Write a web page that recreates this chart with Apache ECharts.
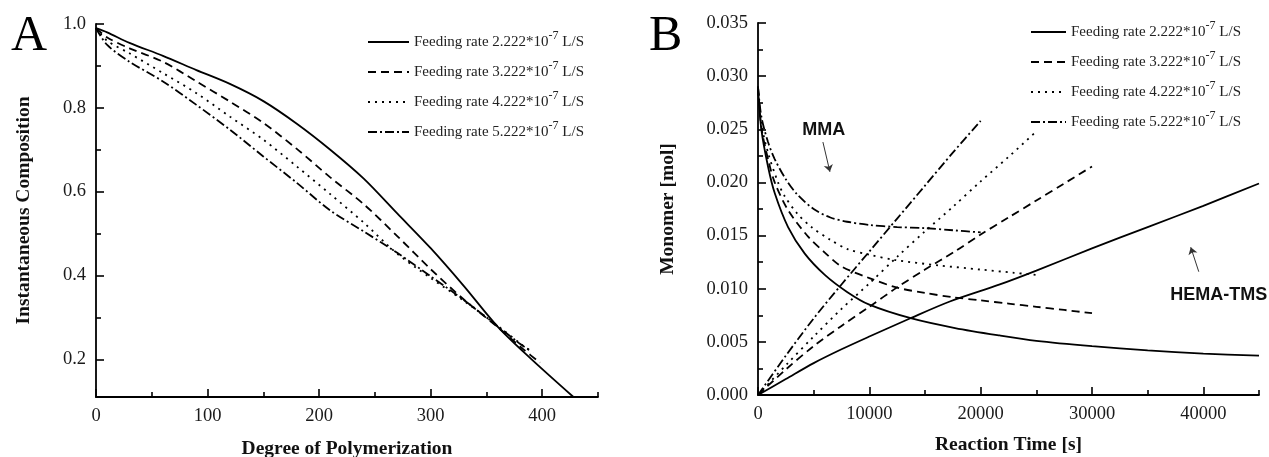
<!DOCTYPE html>
<html>
<head>
<meta charset="utf-8">
<script src="https://cdn.jsdelivr.net/npm/echarts@6/dist/echarts.min.js"></script>
<style>
html,body{margin:0;padding:0;background:#fff;}
#chart{width:1269px;height:457px;}
</style>
</head>
<body>
<div id="chart"></div>
<script>
// ---------- Data ----------
const seriesNames = ['rate2', 'rate3', 'rate4', 'rate5'];
const legendLabels = ['2.222', '3.222', '4.222', '5.222'];
const lineTypes = ['solid', [8, 5], [2, 5], [9, 3, 2, 3]];

// Panel A: Instantaneous Composition vs Degree of Polymerization
const aX1 = [0, 10, 30, 60, 90, 120, 150, 180, 210, 240, 270, 300, 330, 360, 390, 428];
const aY1 = [0.99, 0.98, 0.955, 0.924, 0.89, 0.857, 0.816, 0.762, 0.70, 0.631, 0.548, 0.465, 0.374, 0.278, 0.201, 0.11];
const aX2 = [0, 10, 30, 60, 90, 120, 150, 180, 210, 240, 270, 300, 330, 360, 383, 398];
const aY2 = [0.99, 0.968, 0.942, 0.91, 0.863, 0.815, 0.764, 0.702, 0.634, 0.57, 0.494, 0.415, 0.342, 0.277, 0.224, 0.192];
const aX3 = [0, 10, 30, 60, 90, 120, 150, 180, 210, 240, 270, 300, 330, 360, 383, 392];
const aY3 = [0.99, 0.96, 0.93, 0.883, 0.835, 0.779, 0.724, 0.66, 0.594, 0.526, 0.452, 0.394, 0.339, 0.28, 0.232, 0.215];
const aX4 = [0, 10, 30, 60, 90, 120, 150, 180, 210, 240, 270, 300, 330, 360, 380, 390];
const aY4 = [0.99, 0.95, 0.91, 0.863, 0.807, 0.748, 0.684, 0.621, 0.555, 0.505, 0.454, 0.398, 0.341, 0.279, 0.237, 0.22];

// Panel B: Monomer [mol] vs Reaction Time [s]
// MMA (decreasing) curves
const bMmaX1 = [0, 300, 900, 1500, 2700, 4200, 6000, 8000, 10000, 13800, 17700, 21700, 25000, 30000, 35000, 40000, 45000];
const bMmaY1 = [0.029, 0.025, 0.0215, 0.019, 0.0158, 0.0133, 0.0113, 0.0097, 0.0085, 0.0072, 0.0063, 0.0056, 0.0051, 0.0046, 0.0042, 0.0039, 0.0037];
const bMmaX2 = [0, 300, 900, 1500, 2700, 4500, 6000, 7500, 10000, 12500, 15000, 17500, 20000, 22500, 25000, 27500, 30000];
const bMmaY2 = [0.029, 0.0252, 0.0222, 0.020, 0.0174, 0.0149, 0.0134, 0.0121, 0.0110, 0.0101, 0.0096, 0.0092, 0.0089, 0.0086, 0.0083, 0.0080, 0.0077];
const bMmaX3 = [0, 300, 900, 1800, 2400, 3500, 4800, 6500, 8100, 10000, 12300, 16200, 20000, 23000, 25000];
const bMmaY3 = [0.029, 0.0255, 0.0228, 0.020, 0.0187, 0.0171, 0.0158, 0.0146, 0.0137, 0.0132, 0.0127, 0.0122, 0.0118, 0.0115, 0.0113];
const bMmaX4 = [0, 300, 900, 1500, 2500, 3500, 5000, 6500, 8000, 10000, 12500, 15000, 17500, 20000];
const bMmaY4 = [0.029, 0.0262, 0.0238, 0.0222, 0.0203, 0.0189, 0.0175, 0.0167, 0.0163, 0.0160, 0.0158, 0.0157, 0.0155, 0.0153];
// HEMA-TMS (increasing) curves
const bHemaX1 = [0, 2500, 5000, 7500, 10000, 13640, 17230, 21720, 25000, 30000, 35000, 40000, 45000];
const bHemaY1 = [0, 0.0015, 0.0030, 0.0043, 0.0055, 0.0072, 0.0088, 0.0104, 0.0117, 0.0138, 0.0158, 0.0178, 0.0199];
const bHemaX2 = [0, 2500, 5000, 7500, 10000, 12600, 15000, 17680, 20000, 22500, 25000, 27500, 30000];
const bHemaY2 = [0, 0.0024, 0.0046, 0.0065, 0.0083, 0.0102, 0.0118, 0.0135, 0.0151, 0.0167, 0.0183, 0.0199, 0.0215];
const bHemaX3 = [0, 2500, 5000, 7500, 10000, 12500, 15000, 17500, 20000, 22500, 25000];
const bHemaY3 = [0, 0.0028, 0.0055, 0.0081, 0.0105, 0.0130, 0.0154, 0.0177, 0.0201, 0.0224, 0.0248];
const bHemaX4 = [0, 2500, 5000, 7500, 10000, 12500, 15000, 17500, 20000];
const bHemaY4 = [0, 0.0037, 0.0072, 0.0104, 0.0135, 0.0166, 0.0197, 0.0228, 0.0258];

// Tick values
const aXMajor = [0, 100, 200, 300, 400];
const aXMinor = [50, 150, 250, 350, 450];
const aYMajor = [0.2, 0.4, 0.6, 0.8, 1.0];
const aYMinor = [0.3, 0.5, 0.7, 0.9];
const bXMajor = [0, 10000, 20000, 30000, 40000];
const bXMinor = [5000, 15000, 25000, 35000, 45000];
const bYMajor = [0, 0.005, 0.01, 0.015, 0.02, 0.025, 0.03, 0.035];
const bYMinor = [0.0025, 0.0075, 0.0125, 0.0175, 0.0225, 0.0275, 0.0325];

// Annotations (data coordinates)
const mmaLabel = {text: 'MMA', x: 5900, y: 0.0249};
const mmaArrow = [[5830, 0.0238], [6460, 0.0210]];
const hemaLabel = {text: 'HEMA-TMS', x: 41380, y: 0.0094};
const hemaArrow = [[39590, 0.0116], [38870, 0.0139]];

// ---------- Build ----------
const zip = (xs, ys) => xs.map((x, i) => [x, ys[i]]);
const aData = [zip(aX1, aY1), zip(aX2, aY2), zip(aX3, aY3), zip(aX4, aY4)];
const bMma = [zip(bMmaX1, bMmaY1), zip(bMmaX2, bMmaY2), zip(bMmaX3, bMmaY3), zip(bMmaX4, bMmaY4)];
const bHema = [zip(bHemaX1, bHemaY1), zip(bHemaX2, bHemaY2), zip(bHemaX3, bHemaY3), zip(bHemaX4, bHemaY4)];

const SERIF = '"Liberation Serif", "Times New Roman", serif';
const SANS = '"Liberation Sans", Arial, sans-serif';
const labelColor = '#1a1a1a';
const TICK_FS = 18.5;
const NAME_FS = 19.5;

function lineSeries(name, data, xi, yi, k) {
  return {
    type: 'line', name: name, data: data,
    xAxisIndex: xi, yAxisIndex: yi,
    symbol: 'none', showSymbol: false, smooth: 0.3,
    lineStyle: {color: '#000', width: 1.8, type: lineTypes[k]},
    itemStyle: {color: '#000'},
    emphasis: {disabled: true}, clip: true
  };
}

const series = [];
for (let k = 0; k < 4; k++) series.push(lineSeries(seriesNames[k], aData[k], 0, 0, k));
for (let k = 0; k < 4; k++) series.push(lineSeries(seriesNames[k], bMma[k], 2, 2, k));
for (let k = 0; k < 4; k++) series.push(lineSeries(seriesNames[k], bHema[k], 2, 2, k));

// annotations attached to first B series
series[4].markPoint = {
  silent: true, animation: false,
  symbol: 'rect', symbolSize: 1, itemStyle: {color: 'rgba(0,0,0,0)'},
  label: {show: true, position: 'inside', formatter: '{b}', color: '#111',
          fontFamily: SANS, fontWeight: 'bold', fontSize: 18},
  data: [
    {name: mmaLabel.text, coord: [mmaLabel.x, mmaLabel.y]},
    {name: hemaLabel.text, coord: [hemaLabel.x, hemaLabel.y]}
  ]
};
series[4].markLine = {
  silent: true, animation: false,
  symbol: ['none', 'arrow'], symbolSize: 7,
  lineStyle: {color: '#333', width: 1, type: 'solid'},
  label: {show: false},
  data: [
    [{coord: mmaArrow[0]}, {coord: mmaArrow[1]}],
    [{coord: hemaArrow[0]}, {coord: hemaArrow[1]}]
  ]
};

function majorAxis(opts) {
  return Object.assign({
    type: 'value',
    axisLine: {show: true, onZero: false, lineStyle: {color: '#000', width: 1.8}},
    splitLine: {show: false},
    nameLocation: 'middle',
    nameTextStyle: {fontFamily: SERIF, fontWeight: 'bold', fontSize: NAME_FS, color: '#111'}
  }, opts);
}
function minorAxis(opts) {
  return Object.assign({
    type: 'value',
    axisLine: {show: false},
    axisLabel: {show: false},
    splitLine: {show: false}
  }, opts);
}
const majTick = vals => ({show: true, inside: true, length: 8, customValues: vals, lineStyle: {color: '#000', width: 1.6}});
const minTick = vals => ({show: true, inside: true, length: 5, customValues: vals, lineStyle: {color: '#000', width: 1.6}});
const tickLabel = (vals, fmt) => ({show: true, customValues: vals, color: labelColor, fontFamily: SERIF,
  fontSize: TICK_FS, margin: 10, formatter: fmt});

const legendRich = {
  a: {fontFamily: SERIF, fontSize: 15, color: '#222', lineHeight: 24},
  s: {fontFamily: SERIF, fontSize: 12, color: '#222', lineHeight: 12, verticalAlign: 'top'}
};
function legendFmt(name) {
  const k = seriesNames.indexOf(name);
  return '{a|Feeding rate ' + legendLabels[k] + '*10}{s|-7}{a| L/S}';
}
const legendIconStyle = {color: 'rgba(0,0,0,0)', borderColor: 'rgba(0,0,0,0)', borderWidth: 0};

const option = {
  animation: false,
  backgroundColor: '#fff',
  title: [
    {text: 'A', left: 11, top: 12, padding: 0, textStyle: {fontFamily: SERIF, fontSize: 50, fontWeight: 'normal', color: '#000'}},
    {text: 'B', left: 649, top: 12, padding: 0, textStyle: {fontFamily: SERIF, fontSize: 50, fontWeight: 'normal', color: '#000'}}
  ],
  grid: [
    {left: 96, right: 671, top: 24, bottom: 60, outerBoundsMode: 'none', containLabel: false},
    {left: 758, right: 10, top: 23, bottom: 62, outerBoundsMode: 'none', containLabel: false}
  ],
  legend: [
    {data: seriesNames, orient: 'vertical', left: 367, top: 30, padding: 0, itemWidth: 41, itemHeight: 14, itemGap: 10.5,
     formatter: legendFmt, textStyle: {rich: legendRich}, selectedMode: false, itemStyle: legendIconStyle},
    {data: seriesNames, orient: 'vertical', left: 1030, top: 20, padding: 0, itemWidth: 35, itemHeight: 14, itemGap: 10.5,
     formatter: legendFmt, textStyle: {rich: legendRich}, selectedMode: false, itemStyle: legendIconStyle}
  ],
  xAxis: [
    majorAxis({gridIndex: 0, position: 'bottom', min: 0, max: 450,
      axisTick: majTick(aXMajor), axisLabel: tickLabel(aXMajor, v => String(v)),
      name: 'Degree of Polymerization', nameGap: 42}),
    minorAxis({gridIndex: 0, position: 'bottom', min: 0, max: 450, axisTick: minTick(aXMinor)}),
    majorAxis({gridIndex: 1, position: 'bottom', min: 0, max: 45000,
      axisTick: majTick(bXMajor), axisLabel: tickLabel(bXMajor, v => String(Math.round(v))),
      name: 'Reaction Time [s]', nameGap: 40}),
    minorAxis({gridIndex: 1, position: 'bottom', min: 0, max: 45000, axisTick: minTick(bXMinor)})
  ],
  yAxis: [
    majorAxis({gridIndex: 0, position: 'left', min: 0.11, max: 1.0,
      axisTick: majTick(aYMajor), axisLabel: tickLabel(aYMajor, v => v.toFixed(1)),
      name: 'Instantaneous Composition', nameGap: 62}),
    minorAxis({gridIndex: 0, position: 'left', min: 0.11, max: 1.0, axisTick: minTick(aYMinor)}),
    majorAxis({gridIndex: 1, position: 'left', min: 0, max: 0.035,
      axisTick: majTick(bYMajor), axisLabel: tickLabel(bYMajor, v => v.toFixed(3)),
      name: 'Monomer [mol]', nameGap: 80}),
    minorAxis({gridIndex: 1, position: 'left', min: 0, max: 0.035, axisTick: minTick(bYMinor)})
  ],
  series: series
};

const chart = echarts.init(document.getElementById('chart'), null, {renderer: 'canvas'});
chart.setOption(option);
</script>
</body>
</html>
